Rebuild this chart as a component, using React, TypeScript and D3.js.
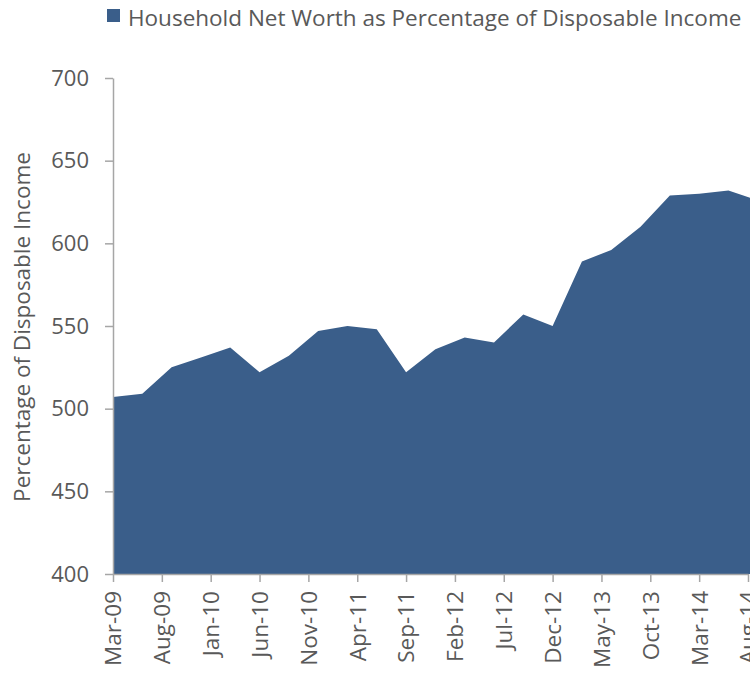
import React from 'react'
import * as d3 from 'd3'

// quarterly observations (end of quarter month)
const quarters = [
  '2009-03', '2009-06', '2009-09', '2009-12',
  '2010-03', '2010-06', '2010-09', '2010-12',
  '2011-03', '2011-06', '2011-09', '2011-12',
  '2012-03', '2012-06', '2012-09', '2012-12',
  '2013-03', '2013-06', '2013-09', '2013-12',
  '2014-03', '2014-06', '2014-09',
]
const netWorth = [
  507, 509, 525, 531,
  537, 522, 532, 547,
  550, 548, 522, 536,
  543, 540, 557, 550,
  589, 596, 610, 629,
  630, 632, 626,
]
// x-axis labels every 5 months
const tickMonths = [
  '2009-03', '2009-08', '2010-01', '2010-06', '2010-11', '2011-04', '2011-09',
  '2012-02', '2012-07', '2012-12', '2013-05', '2013-10', '2014-03', '2014-08',
]
const yTicks = [400, 450, 500, 550, 600, 650, 700]

const seriesName = 'Household Net Worth as Percentage of Disposable Income'
const yTitle = 'Percentage of Disposable Income'

const parse = d3.timeParse('%Y-%m')
const fmt = d3.timeFormat('%b-%y')

const App = () => {
  const ref = React.useRef<SVGSVGElement | null>(null)

  React.useEffect(() => {
    const width = 750
    const height = 674
    const left = 113
    const bottom = 574
    const top = 78

    const data = quarters.map((q, i) => ({ date: parse(q) as Date, value: netWorth[i] }))

    // month-based axis, equal spacing per month like the spreadsheet date axis
    const first = parse(quarters[0]) as Date
    const monthIdx = (d: Date) => d3.timeMonth.count(first, d)
    const x = d3.scaleLinear().domain([0, 65]).range([left, 748])
    const y = d3.scaleLinear().domain([400, 700]).range([bottom, top])

    const svg = d3.select(ref.current)
    svg.selectAll('*').remove()

    const font = "'Open Sans', sans-serif"
    const textColor = '#595959'
    const axisColor = '#a6a6a6'

    // area
    const area = d3
      .area<{ date: Date; value: number }>()
      .x((d) => x(monthIdx(d.date)))
      .y0(y(400))
      .y1((d) => y(d.value))
    svg.append('path').datum(data).attr('d', area).attr('fill', '#3a5e8a')

    // y axis
    const yAxis = svg
      .append('g')
      .attr('transform', `translate(${left},0)`)
      .call(d3.axisLeft(y).tickValues(yTicks).tickSize(8).tickPadding(16).tickSizeOuter(0))
    yAxis.select('.domain').attr('stroke', axisColor).attr('stroke-width', 1.5)
    yAxis.selectAll('line').attr('stroke', axisColor).attr('stroke-width', 1.5)
    yAxis
      .selectAll('text')
      .attr('fill', textColor)
      .style('font-family', font)
      .style('font-size', '22px')

    // x axis
    const xAxis = svg
      .append('g')
      .attr('transform', `translate(0,${bottom})`)
      .call(
        d3
          .axisBottom(x)
          .tickValues(tickMonths.map((m) => monthIdx(parse(m) as Date)))
          .tickFormat((v) => fmt(d3.timeMonth.offset(first, v as number)))
          .tickSize(8)
          .tickSizeOuter(0)
      )
    xAxis.select('.domain').attr('stroke', axisColor).attr('stroke-width', 1.5)
    xAxis.selectAll('line').attr('stroke', axisColor).attr('stroke-width', 1.5)
    xAxis
      .selectAll('text')
      .attr('fill', textColor)
      .attr('transform', 'rotate(-90)')
      .attr('x', -17)
      .attr('y', 0)
      .attr('dy', '0.35em')
      .style('text-anchor', 'end')
      .style('font-family', font)
      .style('font-size', '22.5px')

    // y title
    svg
      .append('text')
      .attr('transform', `translate(30,${(top + bottom) / 2 + 1}) rotate(-90)`)
      .attr('text-anchor', 'middle')
      .attr('fill', textColor)
      .style('font-family', font)
      .style('font-size', '22.5px')
      .text(yTitle)

    // legend
    svg.append('rect').attr('x', 107).attr('y', 9).attr('width', 13).attr('height', 13).attr('fill', '#3a5e8a')
    svg
      .append('text')
      .attr('x', 128)
      .attr('y', 26)
      .attr('fill', textColor)
      .style('font-family', font)
      .style('font-size', '22.5px')
      .text(seriesName)

    svg.attr('width', width).attr('height', height)
  }, [])

  return <svg ref={ref} width={750} height={674} style={{ position: 'absolute', left: 0, top: 0 }}></svg>
}

export default App
